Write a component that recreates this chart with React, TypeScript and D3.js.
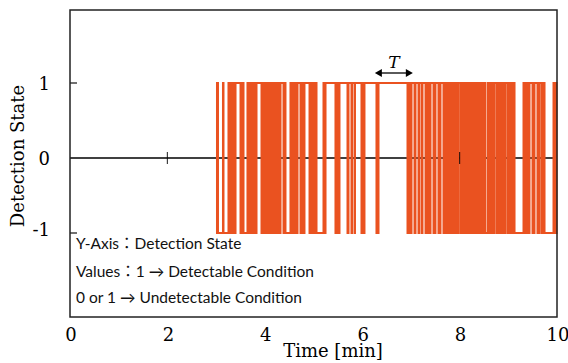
import React, { useEffect, useRef } from 'react'
import * as d3 from 'd3'

// detection signal (minutes)
// bursts = stretches of rapid 1 / -1 switching, drawn solid
const burstStart = [3.008, 3.131, 3.244, 3.491, 3.634, 3.922, 4.374, 4.517, 4.723, 4.908, 5.195,
  5.441, 5.688, 5.770, 5.832, 5.975, 6.283, 6.920, 7.064, 7.146, 7.207,
  7.290, 7.454, 7.556, 7.659, 8.004, 8.573, 8.747, 8.973, 9.302, 9.487,
  9.589, 9.671, 9.918]
const burstEnd = [3.049, 3.162, 3.409, 3.573, 3.840, 4.333, 4.435, 4.682, 4.825, 5.072, 5.257,
  5.544, 5.729, 5.801, 5.862, 6.057, 6.345, 7.023, 7.105, 7.177, 7.248,
  7.413, 7.515, 7.618, 7.988, 8.542, 8.727, 8.953, 9.138, 9.446, 9.548,
  9.651, 9.754, 10.0]
// level held between burst i and burst i+1
const gapLevel = [-1, -1, 1, -1, 1, 1, -1, 1, 1, -1, 1,
  1, 1, 1, 1, 1, 1, 1, 1, 1, 1,
  1, 1, 1, 1, -1, 1, 1, -1, 1, 1,
  1, -1]

const xTicks = [0, 2, 4, 6, 8, 10]
const yTicks = [1, 0, -1]
const zeroLineTicks = [2, 8]
const periodT = [6.26, 7.04]

const legendLines = [
  'Y-Axis：Detection State',
  'Values：1 → Detectable Condition',
  '0 or 1 → Undetectable Condition',
]

const W = 568, H = 363
const margin = { top: 10, right: 11, bottom: 56, left: 70 }
const orange = '#EA5220'
const serif = "'DejaVu Serif', serif"

export default function App() {
  const ref = useRef<SVGSVGElement>(null)

  useEffect(() => {
    const svg = d3.select(ref.current)
    svg.selectAll('*').remove()

    const x = d3.scaleLinear().domain([0, 10]).range([margin.left, W - margin.right])
    const y = d3.scaleLinear().domain([-1, 1]).range([233, 83])
    const top = margin.top, bottom = H - margin.bottom + 10

    // zero line
    svg.append('line')
      .attr('x1', x(0)).attr('x2', x(10))
      .attr('y1', y(0)).attr('y2', y(0))
      .attr('stroke', '#000').attr('stroke-width', 1.3)

    // signal: bursts
    const bursts = burstStart.map((s, i) => ({ s, e: burstEnd[i] }))
    svg.append('g')
      .selectAll('rect')
      .data(bursts)
      .join('rect')
      .attr('x', d => x(d.s) - 0.5)
      .attr('width', d => Math.max(1.5, x(d.e) - x(d.s) + 1))
      .attr('y', y(1) - 1)
      .attr('height', y(-1) - y(1) + 2)
      .attr('fill', orange)

    // signal: quiet stretches
    const line = d3.line<[number, number]>().x(d => x(d[0])).y(d => y(d[1]))
    svg.append('g')
      .selectAll('path')
      .data(gapLevel.map((L, i) => [[burstEnd[i], L], [burstStart[i + 1], L]] as [number, number][]))
      .join('path')
      .attr('d', line)
      .attr('fill', 'none')
      .attr('stroke', orange)
      .attr('stroke-width', 2)

    // small ticks on the zero line
    svg.append('g')
      .selectAll('line')
      .data(zeroLineTicks)
      .join('line')
      .attr('x1', d => x(d)).attr('x2', d => x(d))
      .attr('y1', y(0) - 6).attr('y2', y(0) + 6)
      .attr('stroke', '#000').attr('stroke-opacity', 0.75).attr('stroke-width', 1.2)

    // frame
    svg.append('rect')
      .attr('x', x(0)).attr('y', top)
      .attr('width', x(10) - x(0)).attr('height', bottom - top)
      .attr('fill', 'none').attr('stroke', '#222').attr('stroke-width', 1.5)

    // y ticks (inward) + labels
    svg.append('g')
      .selectAll('line')
      .data(yTicks.filter(d => d !== 0))
      .join('line')
      .attr('x1', x(0)).attr('x2', x(0) + 7)
      .attr('y1', d => y(d)).attr('y2', d => y(d))
      .attr('stroke', '#222').attr('stroke-width', 1.3)

    svg.append('g')
      .attr('font-family', serif).attr('font-size', 18).attr('text-anchor', 'end')
      .selectAll('text')
      .data(yTicks)
      .join('text')
      .attr('x', 50)
      .attr('y', d => y(d) + 7 - (d < 0 ? 4 : 0))
      .text(d => String(d))

    // x labels
    svg.append('g')
      .attr('font-family', serif).attr('font-size', 18).attr('text-anchor', 'middle')
      .selectAll('text')
      .data(xTicks)
      .join('text')
      .attr('x', d => x(d) + 1)
      .attr('y', 341)
      .text(d => String(d))

    svg.append('text')
      .attr('x', 333).attr('y', 357)
      .attr('font-family', serif).attr('font-size', 18).attr('text-anchor', 'middle')
      .text('Time [min]')

    svg.append('text')
      .attr('transform', `translate(24,156) rotate(-90)`)
      .attr('font-family', serif).attr('font-size', 18).attr('text-anchor', 'middle')
      .text('Detection State')

    // period T annotation
    const ay = 73
    const [a0, a1] = periodT
    svg.append('line')
      .attr('x1', x(a0) + 5).attr('x2', x(a1) - 5)
      .attr('y1', ay).attr('y2', ay)
      .attr('stroke', '#000').attr('stroke-width', 1.3)
    svg.append('path')
      .attr('d', `M${x(a0)},${ay}l7,-4v8z M${x(a1)},${ay}l-7,-4v8z`)
      .attr('fill', '#000')
    svg.append('text')
      .attr('x', (x(a0) + x(a1)) / 2).attr('y', 68)
      .attr('font-family', serif).attr('font-size', 17).attr('font-style', 'italic')
      .attr('text-anchor', 'middle')
      .text('T')

    // legend text
    svg.append('g')
      .attr('font-family', "Lato, 'Noto Sans CJK JP', sans-serif").attr('font-size', 15.5)
      .attr('fill', '#111')
      .selectAll('text')
      .data(legendLines)
      .join('text')
      .attr('x', 76)
      .attr('y', (d, i) => [249, 277, 303][i])
      .text(d => d)
  }, [])

  return (
    <svg ref={ref} width={W} height={H}
      style={{ position: 'absolute', left: 0, top: 0, background: '#fff' }} />
  )
}
